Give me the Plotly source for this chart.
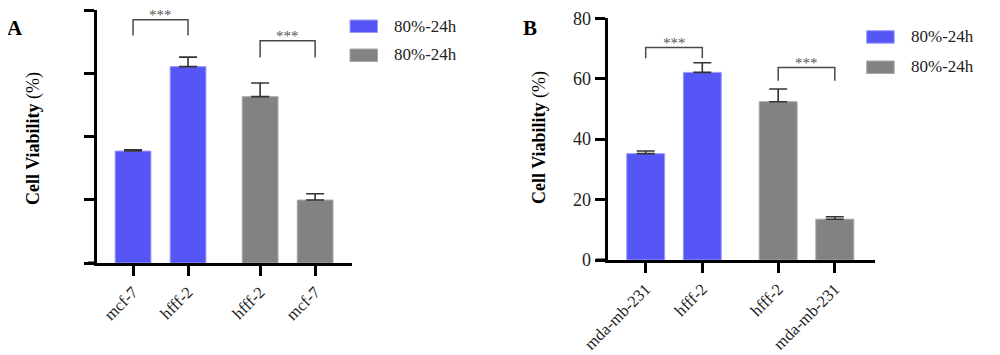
import plotly.graph_objects as go

# ---------------- data ----------------
cats_a = ["mcf-7", "hfff-2", "hfff-2", "mcf-7"]
vals_a = [35.4, 62.1, 52.6, 19.9]
err_a = [0.4, 3.0, 4.3, 2.0]

cats_b = ["mda-mb-231", "hfff-2", "hfff-2", "mda-mb-231"]
vals_b = [35.2, 62.1, 52.4, 13.5]
err_b = [0.9, 3.2, 4.2, 0.8]

groups = ["blue", "blue", "grey", "grey"]
legend_labels = ["80%-24h", "80%-24h"]
yticks = [0, 20, 40, 60, 80]

# significance brackets: (left index, right index, top, bottom)
brackets_a = [(0, 1, 76.9, 71.9), (2, 3, 70.3, 65.0)]
brackets_b = [(0, 1, 70.3, 66.8), (2, 3, 63.7, 59.3)]
sig_label = "***"

# ---------------- style ----------------
BLUE = "#5656F6"
BLUE_EDGE = "#9a9aff"
GREY = "#828282"
GREY_EDGE = "#a8a8a8"
FONT = "Liberation Serif"
OFF = 8                      # page body margin
W, H = 1000 - OFF, 355 - OFF

def px(x):
    return (x - OFF) / W

def py(y):
    return 1 - (y - OFF) / H

def positions(gap):
    return [0, 1, 1 + gap, 2 + gap]

fig = go.Figure()

def add_panel(cats, vals, errs, brackets, xa, ya, gap, width):
    xs = positions(gap)
    for g, color, edge in (("blue", BLUE, BLUE_EDGE), ("grey", GREY, GREY_EDGE)):
        idx = [i for i, gg in enumerate(groups) if gg == g]
        fig.add_trace(go.Bar(
            x=[xs[i] for i in idx], y=[vals[i] for i in idx],
            width=width,
            marker=dict(color=color, line=dict(color=edge, width=1)),
            error_y=dict(type="data", symmetric=False,
                         array=[errs[i] for i in idx],
                         arrayminus=[0 for _ in idx],
                         color="#333333", thickness=1.6, width=9),
            xaxis=xa, yaxis=ya, showlegend=False,
        ))
    for (l, r, top, bot) in brackets:
        fig.add_trace(go.Scatter(
            x=[xs[l], xs[l], xs[r], xs[r]], y=[bot, top, top, bot],
            mode="lines", line=dict(color="#4a4a4a", width=1.5),
            xaxis=xa, yaxis=ya, showlegend=False, hoverinfo="skip",
        ))
        fig.add_annotation(
            x=(xs[l] + xs[r]) / 2, y=top, xref=xa, yref=ya,
            xanchor="center", yanchor="bottom", yshift=-5,
            text=sig_label, showarrow=False,
            font=dict(family=FONT, size=15, color="#555555"),
        )

add_panel(cats_a, vals_a, err_a, brackets_a, "x", "y", 1.31, 0.65)
add_panel(cats_b, vals_b, err_b, brackets_b, "x2", "y2", 1.34, 0.67)

axis_common = dict(
    showline=True, linecolor="black", linewidth=3,
    ticks="outside", tickcolor="black", tickwidth=2.5, ticklen=10,
    showgrid=False, zeroline=False, automargin=False,
)

fig.update_layout(
    width=W, height=H,
    autosize=False,
    margin=dict(l=0, r=0, t=0, b=0, pad=0, autoexpand=False),
    paper_bgcolor="white", plot_bgcolor="white",
    barmode="overlay",
    xaxis=dict(domain=[px(97), px(352)], range=[-0.655, 3.98],
               tickvals=positions(1.31), ticktext=cats_a, tickangle=-45,
               tickfont=dict(family=FONT, size=16.5, color="#222"),
               anchor="y", **axis_common),
    yaxis=dict(domain=[py(263), py(10)], range=[0, 80],
               tickvals=yticks, showticklabels=False,
               anchor="x", **axis_common),
    xaxis2=dict(domain=[px(607.7), px(875)], range=[-0.671, 4.05],
                tickvals=positions(1.34), ticktext=cats_b, tickangle=-45,
                tickfont=dict(family=FONT, size=16.5, color="#222"),
                anchor="y2", **axis_common),
    yaxis2=dict(domain=[py(260), py(18.3)], range=[0, 80],
                tickvals=yticks,
                tickfont=dict(family=FONT, size=18, color="#222"),
                anchor="x2", **axis_common),
)

# x-axis extension to the left (Prism style corner)
for x0, x1, y in ((88, 97, 263), (596, 607.7, 260)):
    fig.add_shape(type="line", xref="paper", yref="paper",
                  x0=px(x0), x1=px(x1), y0=py(y), y1=py(y),
                  line=dict(color="black", width=3))

# panel letters and y titles
for letter, x, y in (("A", 15, 28), ("B", 530, 28)):
    fig.add_annotation(x=px(x), y=py(y), xref="paper", yref="paper",
                       xanchor="center", yanchor="middle",
                       text=f"<b>{letter}</b>", showarrow=False,
                       font=dict(family=FONT, size=21, color="black"))
for x, y in ((33, 139), (539, 138)):
    fig.add_annotation(x=px(x), y=py(y), xref="paper", yref="paper",
                       xanchor="center", yanchor="middle",
                       text="<b>Cell Viability</b> (%)", textangle=-90,
                       showarrow=False,
                       font=dict(family=FONT, size=18, color="black"))

# legends
legend_pos = [(350, 20, 49), (866.7, 30.7, 61)]
for (lx, ly1, ly2) in legend_pos:
    for (ly, color, edge, label) in ((ly1, BLUE, BLUE_EDGE, legend_labels[0]),
                                     (ly2, GREY, GREY_EDGE, legend_labels[1])):
        fig.add_shape(type="rect", xref="paper", yref="paper",
                      x0=px(lx), x1=px(lx + 27.5),
                      y0=py(ly + 12.5), y1=py(ly),
                      fillcolor=color, line=dict(color=edge, width=1))
        fig.add_annotation(x=px(lx + 42), y=py(ly + 6),
                           xref="paper", yref="paper",
                           xanchor="left", yanchor="middle",
                           text=label, showarrow=False,
                           font=dict(family=FONT, size=17, color="#222"))

fig.write_html("out.html")
